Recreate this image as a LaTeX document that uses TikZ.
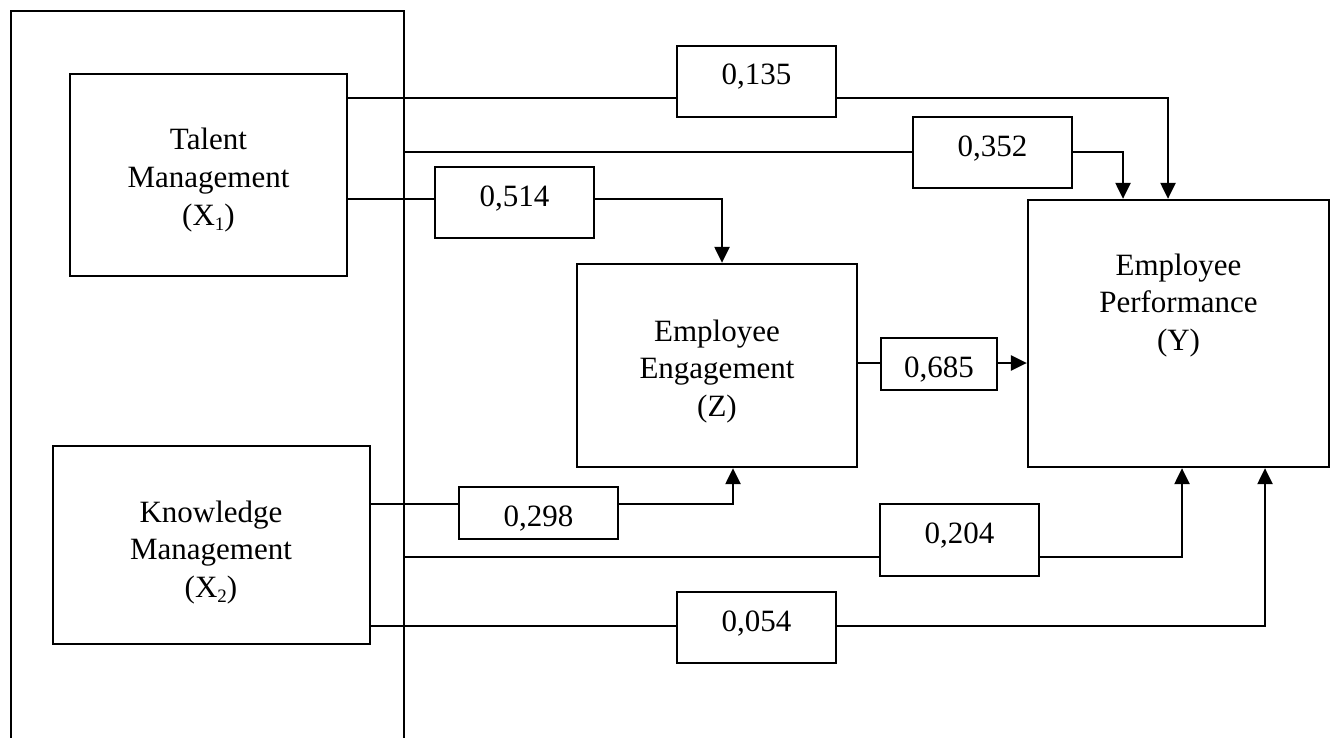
\documentclass[tikz,border=0pt]{standalone}
\usepackage{fontspec}
\setmainfont{Liberation Serif}
\usetikzlibrary{arrows.meta}
\newcommand{\subnum}[1]{\raisebox{-0.18em}{\fontsize{19}{19}\selectfont #1}}
\newcommand{\stack}[1]{\begin{tabular}[t]{@{}c@{}}#1\end{tabular}}
\begin{document}
\begin{tikzpicture}[x=1pt,y=-1pt,
  frame/.style={draw, line width=2.3pt, inner sep=0pt},
  coef/.style={frame, minimum width=159pt, minimum height=71pt},
  wire/.style={line width=2.3pt},
  arr/.style={wire, -{Triangle[length=16pt,width=15pt]}},
  lbl/.style={anchor=base, inner sep=0pt, font=\fontsize{31}{37.5}\selectfont}]
\useasboundingbox (0,0) rectangle (1337,738);
\fill[white] (0,0) rectangle (1337,738);

% outer frame around the two independent variables
\coordinate (oBL) at (11,745);
\coordinate (oTL) at (11,11);
\coordinate (oTR) at (404,11);
\coordinate (oBR) at (404,745);
\draw[wire] (oBL) -- (oTL) -- (oTR) -- (oBR);
\coordinate (o1) at (404,152);
\coordinate (o2) at (404,557);

% main boxes
\node[frame, minimum width=277pt, minimum height=202pt] (tm) at (208.5,175) {};
\node[frame, minimum width=317pt, minimum height=198pt] (km) at (211.5,545) {};
\node[frame, minimum width=280pt, minimum height=203pt] (ee) at (717,365.5) {};
\node[frame, minimum width=301pt, minimum height=267pt] (ep) at (1178.5,333.5) {};

\node[lbl] (ttm) at (208.5,150) {\stack{Talent\\Management\\(X\subnum{1})}};
\node[lbl] (tkm) at (211,522) {\stack{Knowledge\\Management\\(X\subnum{2})}};
\node[lbl] (tee) at (717,341) {\stack{Employee\\Engagement\\(Z)}};
\node[lbl] (tep) at (1178.5,275) {\stack{Employee\\Performance\\(Y)}};

% coefficient boxes
\node[coef] (b135) at (756.5,81.5) {};
\node[coef] (b352) at (992.5,152.5) {};
\node[coef] (b514) at (514.5,202.5) {};
\node[coef, minimum height=52pt] (b298) at (538.5,513) {};
\node[coef, minimum width=116pt, minimum height=52pt] (b685) at (939,364) {};
\node[coef, minimum height=72pt] (b204) at (959.5,540) {};
\node[coef] (b054) at (756.5,627.5) {};

\node[lbl] (t135) at (756.5,85) {0,135};
\node[lbl] (t352) at (992.5,156.7) {0,352};
\node[lbl] (t514) at (514.5,206.7) {0,514};
\node[lbl] (t298) at (538.5,526.7) {0,298};
\node[lbl] (t685) at (939,377) {0,685};
\node[lbl] (t204) at (959.5,543) {0,204};
\node[lbl] (t054) at (756.5,631.7) {0,054};

% route coordinates
\coordinate (k1) at (1168,98);
\coordinate (k2) at (1123,152);
\coordinate (k3) at (722,199);
\coordinate (k4) at (733,504);
\coordinate (k5) at (1182,557);
\coordinate (k6) at (1265,626);
\coordinate (k7) at (0,363);

% connectors
\draw[wire] (tm.east |- k1) -- (b135.west |- k1);
\draw[arr] (b135.east |- k1) -| (ep.north -| k1);
\draw[wire] (o1) -- (b352.west |- k2);
\draw[arr] (b352.east |- k2) -| (ep.north -| k2);
\draw[wire] (tm.east |- k3) -- (b514.west |- k3);
\draw[arr] (b514.east |- k3) -| (ee.north -| k3);
\draw[wire] (km.east |- k4) -- (b298.west |- k4);
\draw[arr] (b298.east |- k4) -| (ee.south -| k4);
\draw[wire] (o2) -- (b204.west |- k5);
\draw[arr] (b204.east |- k5) -| (ep.south -| k5);
\draw[wire] (km.east |- k6) -- (b054.west |- k6);
\draw[arr] (b054.east |- k6) -| (ep.south -| k6);
\draw[wire] (ee.east |- k7) -- (b685.west |- k7);
\draw[arr] (b685.east |- k7) -- (ep.west |- k7);
\end{tikzpicture}
\end{document}
